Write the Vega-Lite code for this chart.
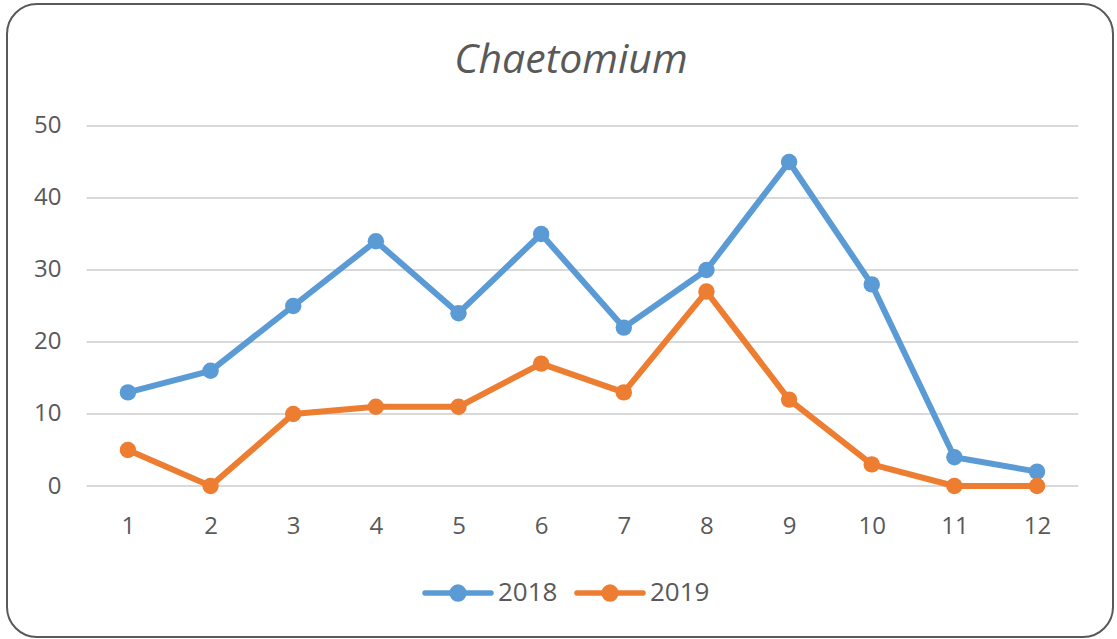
{
  "$schema": "https://vega.github.io/schema/vega-lite/v6.json",
  "width": 1106,
  "height": 633,
  "autosize": {"type": "none"},
  "padding": {"left": 7, "top": 4, "right": 4, "bottom": 2},
  "background": "white",
  "config": {
    "view": {"stroke": "#595959", "strokeWidth": 2, "cornerRadius": 30, "fill": "white"},
    "font": "Open Sans"
  },
  "title": {
    "text": "Chaetomium",
    "font": "Open Sans",
    "fontSize": 41,
    "fontStyle": "italic",
    "fontWeight": "normal",
    "color": "#595959",
    "anchor": "middle",
    "baseline": "alphabetic",
    "offset": -110,
    "dx": 11
  },
  "datasets": {
    "grid": [{"g": 0}, {"g": 10}, {"g": 20}, {"g": 30}, {"g": 40}, {"g": 50}],
    "series": [
      {"month": 1, "year": "2018", "count": 13},
      {"month": 2, "year": "2018", "count": 16},
      {"month": 3, "year": "2018", "count": 25},
      {"month": 4, "year": "2018", "count": 34},
      {"month": 5, "year": "2018", "count": 24},
      {"month": 6, "year": "2018", "count": 35},
      {"month": 7, "year": "2018", "count": 22},
      {"month": 8, "year": "2018", "count": 30},
      {"month": 9, "year": "2018", "count": 45},
      {"month": 10, "year": "2018", "count": 28},
      {"month": 11, "year": "2018", "count": 4},
      {"month": 12, "year": "2018", "count": 2},
      {"month": 1, "year": "2019", "count": 5},
      {"month": 2, "year": "2019", "count": 0},
      {"month": 3, "year": "2019", "count": 10},
      {"month": 4, "year": "2019", "count": 11},
      {"month": 5, "year": "2019", "count": 11},
      {"month": 6, "year": "2019", "count": 17},
      {"month": 7, "year": "2019", "count": 13},
      {"month": 8, "year": "2019", "count": 27},
      {"month": 9, "year": "2019", "count": 12},
      {"month": 10, "year": "2019", "count": 3},
      {"month": 11, "year": "2019", "count": 0},
      {"month": 12, "year": "2019", "count": 0}
    ]
  },
  "layer": [
    {
      "data": {"name": "grid"},
      "mark": {"type": "rule", "color": "#D9D9D9", "strokeWidth": 2},
      "encoding": {
        "y": {
          "field": "g",
          "type": "quantitative",
          "scale": {"domain": [-20.97, 66.94], "nice": false, "zero": false},
          "axis": {
            "orient": "left",
            "offset": -54,
            "title": null,
            "domain": false,
            "ticks": false,
            "grid": false,
            "values": [0, 10, 20, 30, 40, 50],
            "labelFont": "Open Sans",
            "labelFontSize": 24,
            "labelColor": "#595959",
            "labelPadding": 0,
            "labelFlush": false,
            "labelOverlap": false
          }
        },
        "x": {
          "datum": 0.5,
          "type": "quantitative",
          "scale": {"domain": [-0.463, 12.919], "nice": false, "zero": false},
          "axis": {
            "orient": "bottom",
            "offset": -151,
            "title": null,
            "domain": false,
            "ticks": false,
            "grid": false,
            "values": [1, 2, 3, 4, 5, 6, 7, 8, 9, 10, 11, 12],
            "format": "d",
            "labelFont": "Open Sans",
            "labelFontSize": 24,
            "labelColor": "#595959",
            "labelPadding": 28,
            "labelFlush": false,
            "labelOverlap": false
          }
        },
        "x2": {"datum": 12.5}
      }
    },
    {
      "data": {"name": "series"},
      "mark": {
        "type": "line",
        "strokeWidth": 6,
        "strokeCap": "round",
        "strokeJoin": "round",
        "point": {"filled": true, "size": 270, "opacity": 1}
      },
      "encoding": {
        "x": {
          "field": "month",
          "type": "quantitative",
          "axis": {
            "orient": "bottom",
            "offset": -151,
            "title": null,
            "domain": false,
            "ticks": false,
            "grid": false,
            "values": [1, 2, 3, 4, 5, 6, 7, 8, 9, 10, 11, 12],
            "format": "d",
            "labelFont": "Open Sans",
            "labelFontSize": 24,
            "labelColor": "#595959",
            "labelPadding": 28,
            "labelFlush": false,
            "labelOverlap": false
          }
        },
        "y": {
          "field": "count",
          "type": "quantitative",
          "axis": {
            "orient": "left",
            "offset": -54,
            "title": null,
            "domain": false,
            "ticks": false,
            "grid": false,
            "values": [0, 10, 20, 30, 40, 50],
            "labelFont": "Open Sans",
            "labelFontSize": 24,
            "labelColor": "#595959",
            "labelPadding": 0,
            "labelFlush": false,
            "labelOverlap": false
          }
        },
        "color": {
          "field": "year",
          "type": "nominal",
          "scale": {"domain": ["2018", "2019"], "range": ["#5B9BD5", "#ED7D31"]},
          "legend": {
            "orient": "none",
            "direction": "horizontal",
            "legendX": 415,
            "legendY": 553,
            "title": null,
            "padding": 0,
            "symbolType": "M-1,0H1M-0.18,0A0.18,0.18,0,1,1,0.18,0A0.18,0.18,0,1,1,-0.18,0Z",
            "symbolSize": 4356,
            "symbolStrokeWidth": 5,
            "labelFont": "Open Sans",
            "labelFontSize": 26,
            "labelColor": "#595959",
            "labelOffset": 4,
            "columnPadding": 8,
            "encode": {
              "symbols": {
                "update": {
                  "fill": {"scale": "color", "field": "value"},
                  "stroke": {"scale": "color", "field": "value"},
                  "strokeWidth": {"value": 5.5},
                  "strokeCap": {"value": "round"},
                  "opacity": {"value": 1}
                }
              }
            }
          }
        }
      }
    }
  ]
}
